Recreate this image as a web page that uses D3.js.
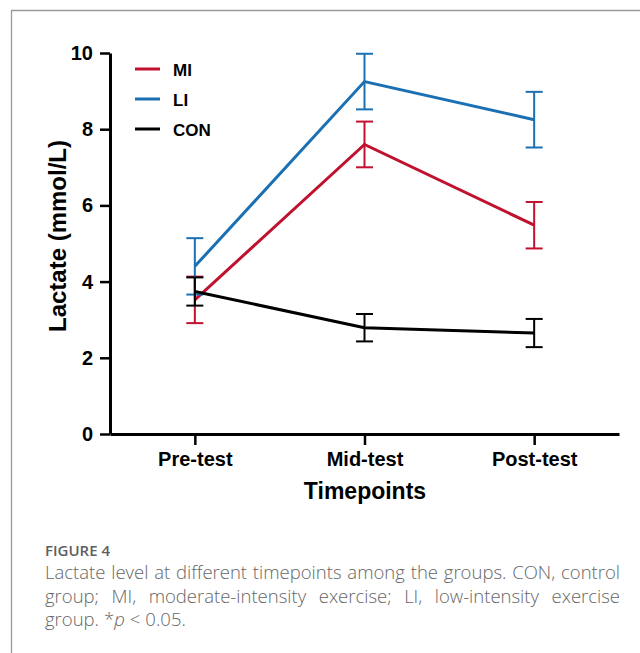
<!DOCTYPE html>
<html>
<head>
<meta charset="utf-8">
<script src="https://cdn.jsdelivr.net/npm/d3@7"></script>
<style>
  body { margin: 0; background: #fff; }
  svg { display: block; }
</style>
</head>
<body>
<div id="chart"></div>
<script>
// data
var timepoints = ["Pre-test", "Mid-test", "Post-test"]
var groups = ["MI", "LI", "CON"]
var groupColors = ["#c0112e", "#1b70b3", "#000000"]
var miMean = [3.52, 7.6, 5.48]
var miErr = [0.61, 0.6, 0.61]
var liMean = [4.4, 9.25, 8.25]
var liErr = [0.74, 0.73, 0.73]
var conMean = [3.74, 2.79, 2.65]
var conErr = [0.37, 0.36, 0.37]
var yTicks = [0, 2, 4, 6, 8, 10]

var captionTitle = "FIGURE 4"
var captionLines = [
  "Lactate level at different timepoints among the groups. CON, control",
  "group; MI, moderate-intensity exercise; LI, low-intensity exercise",
  "group. *p < 0.05."
]

var series = [
  {name: "MI", mean: miMean, err: miErr},
  {name: "LI", mean: liMean, err: liErr},
  {name: "CON", mean: conMean, err: conErr}
]

var width = 640, height = 653
var svg = d3.select("#chart").append("svg")
  .attr("width", width)
  .attr("height", height)

// frame
svg.append("path")
  .attr("d", "M11.5,653 V10.5 H640")
  .attr("fill", "none")
  .attr("stroke", "#9a9a9a")
  .attr("stroke-width", 1.3)

var x = d3.scalePoint()
  .domain(timepoints)
  .range([110, 619])
  .padding(0.5)

var y = d3.scaleLinear()
  .domain([0, 10])
  .range([434, 53])

var color = d3.scaleOrdinal().domain(groups).range(groupColors)

var font = "'Liberation Sans', Arial, Helvetica, sans-serif"

// y axis
var yAxis = svg.append("g")
  .attr("transform", "translate(110,0)")
  .call(d3.axisLeft(y).tickValues(yTicks).tickSize(10).tickPadding(7).tickSizeOuter(0))
yAxis.select(".domain").attr("stroke-width", 3)
yAxis.selectAll(".tick line").attr("stroke-width", 2.5)
yAxis.selectAll(".tick text")
  .attr("font-family", font)
  .attr("font-weight", "bold")
  .attr("font-size", 20)
  .attr("fill", "#000")

// x axis
var xAxis = svg.append("g")
  .attr("transform", "translate(0,434)")
  .call(d3.axisBottom(x).tickSize(11).tickPadding(7).tickSizeOuter(0))
xAxis.select(".domain").attr("stroke-width", 3)
xAxis.selectAll(".tick line").attr("stroke-width", 2.5)
xAxis.selectAll(".tick text")
  .attr("font-family", font)
  .attr("font-weight", "bold")
  .attr("font-size", 20)
  .attr("fill", "#000")

// axis titles
svg.append("text")
  .attr("transform", "translate(66,236) rotate(-90)")
  .attr("text-anchor", "middle")
  .attr("font-family", font)
  .attr("font-weight", "bold")
  .attr("font-size", 24)
  .text("Lactate (mmol/L)")

svg.append("text")
  .attr("x", 365)
  .attr("y", 499)
  .attr("text-anchor", "middle")
  .attr("font-family", font)
  .attr("font-weight", "bold")
  .attr("font-size", 23)
  .text("Timepoints")

// error bars + lines
var capHalf = 8.5
var line = d3.line()
  .x(function(d, i) { return x(timepoints[i]) })
  .y(function(d) { return y(d) })

series.forEach(function(s) {
  var g = svg.append("g")
  var c = color(s.name)
  timepoints.forEach(function(t, i) {
    var hi = y(s.mean[i] + s.err[i]), lo = y(s.mean[i] - s.err[i]), cx = x(t)
    g.append("line").attr("x1", cx).attr("x2", cx).attr("y1", hi).attr("y2", lo)
      .attr("stroke", c).attr("stroke-width", 2)
    g.append("line").attr("x1", cx - capHalf).attr("x2", cx + capHalf).attr("y1", hi).attr("y2", hi)
      .attr("stroke", c).attr("stroke-width", 2)
    g.append("line").attr("x1", cx - capHalf).attr("x2", cx + capHalf).attr("y1", lo).attr("y2", lo)
      .attr("stroke", c).attr("stroke-width", 2)
  })
  g.append("path")
    .datum(s.mean)
    .attr("d", line)
    .attr("fill", "none")
    .attr("stroke", c)
    .attr("stroke-width", 3)
})

// legend
var legend = svg.append("g")
groups.forEach(function(name, i) {
  var ly = 69 + i * 30
  legend.append("line")
    .attr("x1", 135).attr("x2", 160).attr("y1", ly).attr("y2", ly)
    .attr("stroke", color(name)).attr("stroke-width", 3)
  legend.append("text")
    .attr("x", 173).attr("y", ly + 6.5)
    .attr("font-family", font)
    .attr("font-weight", "bold")
    .attr("font-size", 17)
    .text(name)
})

// caption
var capFont = "'Open Sans', 'Noto Sans', sans-serif"
svg.append("text")
  .attr("x", 45).attr("y", 556)
  .attr("font-family", capFont)
  .attr("font-weight", 600)
  .attr("font-size", 15)
  .attr("fill", "#5e5e5e")
  .text(captionTitle)

var left = 45, right = 620
captionLines.forEach(function(str, li) {
  var by = 579 + li * 23.5
  var words = str.split(" ")
  var justify = li < captionLines.length - 1
  var t = svg.append("text")
    .attr("y", by)
    .attr("font-family", capFont)
    .attr("font-weight", 300)
    .attr("font-size", 18.5)
    .attr("fill", "#666")
  var spans = words.map(function(w) {
    var sp = t.append("tspan")
    if (w === "*p") {
      sp.text("*")
      sp.append("tspan").attr("font-style", "italic").text("p")
    } else {
      sp.text(w)
    }
    return sp
  })
  var widths = spans.map(function(sp) { return sp.node().getComputedTextLength() })
  var total = d3.sum(widths)
  var gap = justify ? (right - left - total) / (words.length - 1) : 5
  var cx = left
  spans.forEach(function(sp, i) {
    sp.attr("x", cx)
    cx += widths[i] + gap
  })
})
</script>
</body>
</html>
